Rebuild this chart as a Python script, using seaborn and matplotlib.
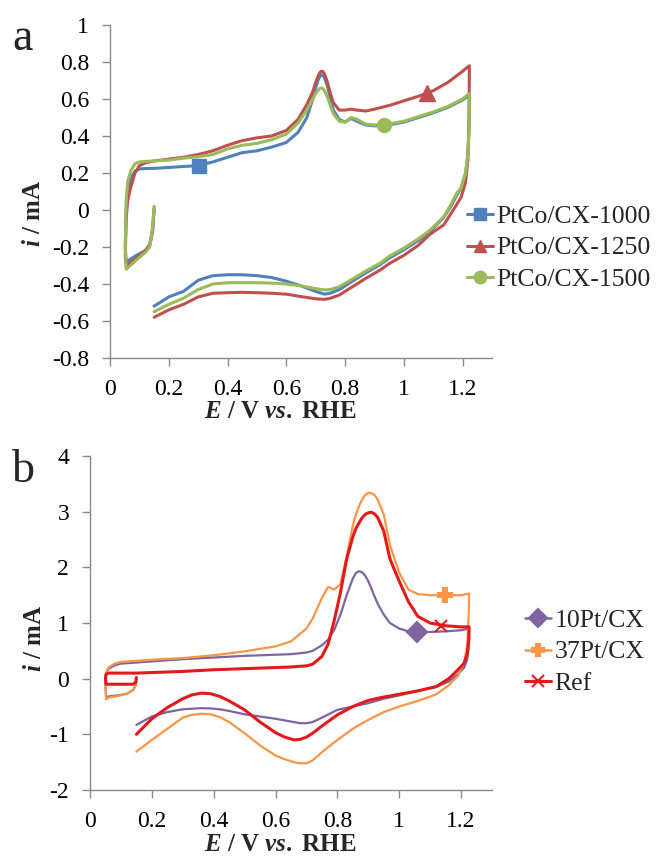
import numpy as np
import matplotlib
matplotlib.use('Agg')
import matplotlib.pyplot as plt
import seaborn as sns
from matplotlib.lines import Line2D
from matplotlib.ticker import FuncFormatter, FixedLocator

# ---------------- Panel a data ----------------
a_labels = ['PtCo/CX-1000', 'PtCo/CX-1250', 'PtCo/CX-1500']
a_colors = ['#4F81BD', '#C0504D', '#9BBB59']
a_markers = ['s', '^', 'o']
a_marker_E = [0.303, 1.079, 0.934]
a_marker_i = [0.238, 0.630, 0.460]

a_E_anodic = [0.15, 0.145, 0.135, 0.12, 0.09, 0.055, 0.052, 0.055, 0.06, 0.07, 0.085, 0.1,
              0.12, 0.15, 0.2, 0.25, 0.3, 0.35, 0.4, 0.45, 0.5, 0.55, 0.6, 0.64, 0.67, 0.69,
              0.7, 0.71, 0.715, 0.72, 0.725, 0.73, 0.74, 0.75, 0.76, 0.78, 0.8, 0.82, 0.84,
              0.87, 0.9, 0.95, 1.0, 1.05, 1.1, 1.15, 1.2, 1.223]
a_E_cathodic = [1.223, 1.222, 1.218, 1.21, 1.195, 1.18, 1.16, 1.136, 1.09, 1.05, 1.0, 0.95,
                0.92, 0.87, 0.82, 0.78, 0.75, 0.73, 0.7, 0.65, 0.6, 0.55, 0.5, 0.45, 0.4,
                0.35, 0.3, 0.25, 0.2, 0.15]

a1000_anodic = [0.01, -0.12, -0.19, -0.22, -0.245, -0.28, -0.2, 0.0, 0.1, 0.17, 0.21, 0.222,
                0.224, 0.225, 0.23, 0.235, 0.24, 0.26, 0.285, 0.31, 0.32, 0.34, 0.365, 0.42,
                0.5, 0.6, 0.66, 0.71, 0.725, 0.73, 0.728, 0.715, 0.67, 0.6, 0.54, 0.49,
                0.475, 0.495, 0.48, 0.46, 0.455, 0.46, 0.475, 0.5, 0.525, 0.555, 0.595, 0.62]
a1000_cathodic = [0.62, 0.45, 0.3, 0.2, 0.12, 0.08, 0.02, -0.04, -0.115, -0.165, -0.215, -0.26,
                  -0.295, -0.34, -0.39, -0.43, -0.45, -0.455, -0.44, -0.41, -0.385, -0.365,
                  -0.355, -0.35, -0.35, -0.355, -0.38, -0.44, -0.47, -0.52]

a1250_anodic = [0.0, -0.1, -0.19, -0.22, -0.26, -0.3, -0.25, -0.05, 0.05, 0.12, 0.2, 0.24,
                0.255, 0.265, 0.275, 0.285, 0.3, 0.32, 0.35, 0.375, 0.39, 0.4, 0.43, 0.49,
                0.57, 0.64, 0.69, 0.73, 0.745, 0.75, 0.748, 0.735, 0.69, 0.63, 0.58, 0.54,
                0.54, 0.545, 0.54, 0.535, 0.545, 0.565, 0.59, 0.615, 0.645, 0.69, 0.75, 0.78]
a1250_cathodic = [0.78, 0.5, 0.27, 0.15, 0.07, 0.03, -0.02, -0.08, -0.13, -0.19, -0.245, -0.29,
                  -0.324, -0.37, -0.42, -0.46, -0.477, -0.483, -0.48, -0.468, -0.455, -0.45,
                  -0.447, -0.445, -0.447, -0.45, -0.47, -0.51, -0.54, -0.58]

a1500_anodic = [0.02, -0.1, -0.2, -0.23, -0.27, -0.32, -0.2, 0.05, 0.15, 0.21, 0.25, 0.26,
                0.263, 0.265, 0.27, 0.28, 0.288, 0.3, 0.33, 0.35, 0.36, 0.38, 0.41, 0.47,
                0.54, 0.6, 0.63, 0.65, 0.658, 0.66, 0.655, 0.645, 0.61, 0.565, 0.52, 0.48,
                0.475, 0.5, 0.49, 0.465, 0.46, 0.465, 0.48, 0.505, 0.53, 0.56, 0.6, 0.63]
a1500_cathodic = [0.63, 0.45, 0.3, 0.2, 0.12, 0.09, 0.03, -0.036, -0.108, -0.155, -0.206, -0.25,
                  -0.287, -0.33, -0.378, -0.415, -0.43, -0.432, -0.425, -0.41, -0.4, -0.395,
                  -0.393, -0.393, -0.393, -0.4, -0.43, -0.477, -0.51, -0.55]

# ---------------- Panel b data ----------------
b_labels = ['10Pt/CX', '37Pt/CX', 'Ref']
b_colors = ['#8064A2', '#F79646', '#E31A1C']
b_markers = ['D', 'P', 'x']
b_marker_E = [1.059, 1.148, 1.135]
b_marker_i = [0.83, 1.50, 0.95]

b_E_anodic = [0.15, 0.148, 0.14, 0.12, 0.09, 0.06, 0.052, 0.05, 0.052, 0.06, 0.08, 0.1, 0.15,
              0.2, 0.3, 0.4, 0.5, 0.6, 0.65, 0.7, 0.72, 0.75, 0.77, 0.79, 0.81, 0.83, 0.85,
              0.86, 0.87, 0.88, 0.89, 0.9, 0.91, 0.92, 0.93, 0.95, 0.97, 1.0, 1.03, 1.06,
              1.1, 1.15, 1.2, 1.226]
b_E_cathodic = [1.226, 1.225, 1.22, 1.21, 1.19, 1.16, 1.12, 1.06, 1.0, 0.95, 0.9, 0.85, 0.8,
                0.75, 0.72, 0.7, 0.68, 0.66, 0.63, 0.6, 0.55, 0.5, 0.45, 0.42, 0.39, 0.36,
                0.33, 0.3, 0.25, 0.2, 0.15]

b10_anodic = [-0.05, -0.12, -0.2, -0.27, -0.3, -0.32, -0.33, -0.1, 0.1, 0.18, 0.24, 0.27, 0.29,
              0.31, 0.35, 0.38, 0.41, 0.43, 0.44, 0.47, 0.5, 0.6, 0.7, 0.88, 1.15, 1.5, 1.8,
              1.9, 1.93, 1.91, 1.85, 1.75, 1.62, 1.48, 1.35, 1.15, 1.0, 0.9, 0.85, 0.83,
              0.84, 0.85, 0.87, 0.9]
b10_cathodic = [0.9, 0.6, 0.35, 0.2, 0.08, -0.05, -0.15, -0.22, -0.3, -0.36, -0.44, -0.5, -0.56,
                -0.7, -0.78, -0.8, -0.8, -0.78, -0.75, -0.72, -0.68, -0.64, -0.58, -0.55,
                -0.535, -0.53, -0.54, -0.55, -0.6, -0.68, -0.83]

b37_anodic = [0.0, -0.1, -0.2, -0.27, -0.31, -0.34, -0.37, -0.1, 0.1, 0.2, 0.27, 0.3, 0.32,
              0.34, 0.37, 0.42, 0.49, 0.58, 0.67, 0.9, 1.08, 1.45, 1.65, 1.6, 1.7, 2.2, 2.75,
              2.95, 3.1, 3.22, 3.3, 3.34, 3.33, 3.3, 3.22, 2.95, 2.4, 1.9, 1.6, 1.52, 1.5,
              1.5, 1.5, 1.53]
b37_cathodic = [1.53, 1.2, 0.6, 0.3, 0.05, -0.12, -0.28, -0.4, -0.5, -0.6, -0.74, -0.9, -1.1,
                -1.32, -1.47, -1.52, -1.52, -1.5, -1.45, -1.38, -1.2, -0.98, -0.78, -0.69,
                -0.64, -0.63, -0.65, -0.7, -0.9, -1.1, -1.31]

bref_anodic = [0.02, -0.06, -0.1, -0.1, -0.1, -0.1, -0.1, 0.0, 0.08, 0.1, 0.1, 0.1, 0.1,
               0.11, 0.13, 0.16, 0.18, 0.2, 0.21, 0.23, 0.26, 0.4, 0.62, 1.05, 1.55, 2.15,
               2.55, 2.7, 2.8, 2.89, 2.95, 2.98, 2.99, 2.96, 2.9, 2.65, 2.15, 1.75, 1.38,
               1.12, 1.0, 0.95, 0.93, 0.93]
bref_cathodic = [0.93, 0.7, 0.45, 0.28, 0.16, 0.0, -0.14, -0.22, -0.28, -0.33, -0.39, -0.5,
                 -0.65, -0.85, -0.98, -1.05, -1.09, -1.1, -1.05, -0.97, -0.78, -0.56, -0.4,
                 -0.32, -0.27, -0.26, -0.29, -0.36, -0.52, -0.72, -1.0]

# ---------------- Style ----------------
sns.set_theme(style='white')
plt.rcParams['font.family'] = ['Liberation Serif', 'DejaVu Serif']
plt.rcParams['axes.unicode_minus'] = False
plt.rcParams['mathtext.fontset'] = 'custom'
plt.rcParams['mathtext.it'] = 'Liberation Serif:italic:bold'
plt.rcParams['mathtext.rm'] = 'Liberation Serif:bold'
plt.rcParams['mathtext.bf'] = 'Liberation Serif:bold'

W, H = 657, 859
fig = plt.figure(figsize=(W / 100, H / 100), dpi=100)
axA = fig.add_axes([110 / W, 1 - 358 / H, 382 / W, 333 / H])
axB = fig.add_axes([90 / W, 1 - 790 / H, 402 / W, 334 / H])

spine_col = '#8a8a8a'


def fmt(v, p):
    v = round(v, 1)
    if abs(v) < 1e-9:
        return '0'
    return f'{v:g}'


def style_axis(ax, yticks):
    sns.despine(ax=ax)
    for s in ['left', 'bottom']:
        ax.spines[s].set_color(spine_col)
        ax.spines[s].set_linewidth(1.0)
    ax.set_xlim(0, 1.3)
    ax.xaxis.set_major_locator(FixedLocator([0, 0.2, 0.4, 0.6, 0.8, 1.0, 1.2]))
    ax.yaxis.set_major_locator(FixedLocator(yticks))
    ax.xaxis.set_major_formatter(FuncFormatter(fmt))
    ax.yaxis.set_major_formatter(FuncFormatter(fmt))
    ax.tick_params(axis='both', which='major', bottom=True, left=True, direction='out',
                   length=6, width=1.0, color=spine_col, labelsize=17, pad=9,
                   labelcolor='black')
    ax.set_facecolor('white')


# Panel a curves
a_series = [
    (a1000_anodic, a1000_cathodic),
    (a1250_anodic, a1250_cathodic),
    (a1500_anodic, a1500_cathodic),
]
for (an, ca), col in zip(a_series, a_colors):
    E = np.concatenate([a_E_anodic, a_E_cathodic])
    I = np.concatenate([an, ca])
    sns.lineplot(x=E, y=I, sort=False, estimator=None, color=col, lw=2.2, ax=axA)
for ex, iy, col, m in zip(a_marker_E, a_marker_i, a_colors, a_markers):
    axA.plot([ex], [iy], marker=m, color=col, ms=11 if m == '^' else 10, ls='none', zorder=5)

axA.set_ylim(-0.8, 1.0)
style_axis(axA, np.round(np.arange(-0.8, 1.01, 0.2), 1))

# Panel b curves
b_series = [
    (b10_anodic, b10_cathodic, 1.6),
    (b37_anodic, b37_cathodic, 1.6),
    (bref_anodic, bref_cathodic, 2.2),
]
for (an, ca, lw), col in zip(b_series, b_colors):
    E = np.concatenate([b_E_anodic, b_E_cathodic])
    I = np.concatenate([an, ca])
    sns.lineplot(x=E, y=I, sort=False, estimator=None, color=col, lw=lw, ax=axB)
for ex, iy, col, m in zip(b_marker_E, b_marker_i, b_colors, b_markers):
    axB.plot([ex], [iy], marker=m, color=col, ms=10 if m != 'x' else 9, mew=1.5,
             ls='none', zorder=5)

axB.set_ylim(-2, 4)
style_axis(axB, [-2, -1, 0, 1, 2, 3, 4])

# Axis labels
for ax, xc, xy, yx, yy in [(axA, 0.445, -0.162, -0.20, 0.435),
                           (axB, 0.473, -0.162, -0.139, 0.455)]:
    ax.set_xlabel(r'$E$ / V $vs.$ RHE', fontsize=18, fontweight='bold')
    ax.set_ylabel(r'$i$ / mA', fontsize=18, fontweight='bold')
    ax.xaxis.set_label_coords(xc, xy)
    ax.yaxis.set_label_coords(yx, yy)
    ax.xaxis.label.set_verticalalignment('center')
    ax.yaxis.label.set_verticalalignment('center')

# Panel letters
fig.text(12 / W, 1 - 50 / H, 'a', fontsize=33, va='baseline', ha='left')
fig.text(12 / W, 1 - 482 / H, 'b', fontsize=33, va='baseline', ha='left')

# Legends
hA = [Line2D([0], [0], color=c, lw=2.2, marker=m, ms=9) for c, m in zip(a_colors, a_markers)]
fig.legend(hA, a_labels, loc='center left', bbox_to_anchor=(467 / W, 1 - 248 / H),
           frameon=False, fontsize=18.5, handlelength=1.0, handletextpad=0.15,
           labelspacing=0.33, borderpad=0, borderaxespad=0)
hB = [Line2D([0], [0], color=c, lw=1.8 if i < 2 else 2.2, marker=m, ms=9, mew=1.5)
      for i, (c, m) in enumerate(zip(b_colors, b_markers))]
fig.legend(hB, b_labels, loc='center left', bbox_to_anchor=(525 / W, 1 - 652 / H),
           frameon=False, fontsize=18.5, handlelength=1.0, handletextpad=0.15,
           labelspacing=0.33, borderpad=0, borderaxespad=0)

fig.savefig('out.png', dpi=100, facecolor='white')
